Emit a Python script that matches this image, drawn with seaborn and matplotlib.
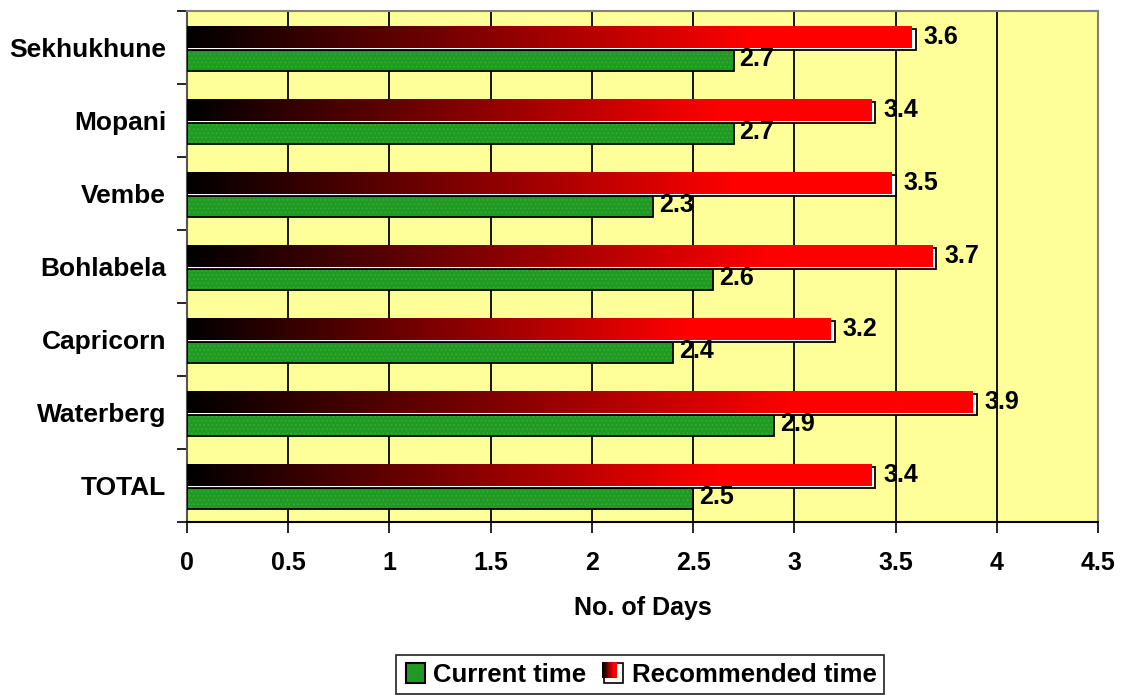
import numpy as np
import pandas as pd
import matplotlib
matplotlib.use("Agg")
import matplotlib.pyplot as plt
from matplotlib.patches import Rectangle
from matplotlib.legend_handler import HandlerBase
import seaborn as sns

# District data (number of days)
districts = ["Sekhukhune", "Mopani", "Vembe", "Bohlabela", "Capricorn", "Waterberg", "TOTAL"]
current_time = [2.7, 2.7, 2.3, 2.6, 2.4, 2.9, 2.5]
recommended_time = [3.6, 3.4, 3.5, 3.7, 3.2, 3.9, 3.4]
x_ticks = [0, 0.5, 1, 1.5, 2, 2.5, 3, 3.5, 4, 4.5]
x_tick_labels = ["0", "0.5", "1", "1.5", "2", "2.5", "3", "3.5", "4", "4.5"]

sns.set_theme(style="white")
plt.rcParams["font.family"] = ["Liberation Sans", "DejaVu Sans"]
plt.rcParams["font.weight"] = "bold"
plt.rcParams["hatch.linewidth"] = 0.6
for key in ["text.color", "axes.labelcolor", "xtick.color", "ytick.color"]:
    plt.rcParams[key] = "black"

GREEN = "#229922"
GREEN_DOT = "#35b035"
BG = "#FFFF99"

df = pd.DataFrame({
    "district": districts * 2,
    "days": recommended_time + current_time,
    "series": ["Recommended time"] * len(districts) + ["Current time"] * len(districts),
})

fig = plt.figure(figsize=(11.27, 6.97), dpi=100)
ax = fig.add_axes([0.1659, 0.2511, 0.8084, 0.7331])
ax.set_facecolor(BG)

sns.barplot(data=df, y="district", x="days", hue="series",
            hue_order=["Recommended time", "Current time"], order=districts,
            orient="h", width=0.58, dodge=True, legend=False, ax=ax,
            errorbar=None, zorder=3)


def gradient_img(n=256):
    t = np.linspace(0, 1, n)
    r = np.clip(t / 0.78, 0, 1)
    img = np.zeros((1, n, 3))
    img[0, :, 0] = r
    return img


grad = gradient_img()
px = 4.5 / (0.8084 * 1127)  # data units per pixel along x
shift = 0.03  # bars sit slightly below the band centre

n = len(districts)
patches = list(ax.patches)
rec_patches = patches[:n]
cur_patches = patches[n:n * 2]

for p in cur_patches:
    p.set_y(p.get_y() + shift)
    p.set_facecolor(GREEN)
    p.set_edgecolor(GREEN_DOT)
    p.set_hatch("....")
    p.set_linewidth(0)
    x0, y0, w, h = p.get_x(), p.get_y(), p.get_width(), p.get_height()
    ax.add_patch(Rectangle((x0, y0), w, h, facecolor="none", edgecolor="black",
                           linewidth=1.3, zorder=4))

for p in rec_patches:
    p.set_y(p.get_y() + shift)
    x0, y0, w, h = p.get_x(), p.get_y(), p.get_width(), p.get_height()
    p.set_visible(False)
    # white shadow box with outline
    ax.add_patch(Rectangle((x0, y0), w, h, facecolor="white", edgecolor="black",
                           linewidth=1.3, zorder=4))
    # shaded face, shifted slightly up and left
    dy = h * 0.06
    ax.imshow(grad, extent=[x0 - 2 * px, x0 + w - 4 * px, y0 + h - dy, y0 - dy],
              aspect="auto", interpolation="bilinear", zorder=5)

# value labels
for i, (c, r) in enumerate(zip(current_time, recommended_time)):
    rp = rec_patches[i]
    cp = cur_patches[i]
    ax.text(r + 8 * px, rp.get_y() + rp.get_height() / 2 - 0.03, f"{r:.1f}",
            va="center", ha="left", fontsize=18, fontweight="bold", zorder=6)
    ax.text(c + 6 * px, cp.get_y() + cp.get_height() / 2 - 0.02, f"{c:.1f}",
            va="center", ha="left", fontsize=18, fontweight="bold", zorder=6)

ax.set_xlim(0, 4.5)
ax.set_ylim(n - 0.5, -0.5)
ax.set_xticks(x_ticks)
ax.set_xticklabels(x_tick_labels, fontsize=18, fontweight="bold")
ax.set_yticks(range(n))
ax.set_yticklabels(districts, fontsize=19, fontweight="bold")
ax.set_yticks(np.arange(-0.5, n, 1), minor=True)
ax.tick_params(axis="y", which="major", length=0, pad=15)
ax.tick_params(axis="y", which="minor", length=7, width=1.2, color="black", direction="out", left=True)
ax.tick_params(axis="x", which="major", length=8, width=1.2, color="black", direction="out",
               bottom=True, pad=13)

ax.set_xlabel("No. of Days", fontsize=18, fontweight="bold", labelpad=15)
ax.set_ylabel("")

ax.grid(False)
for xv in x_ticks[1:-1]:
    ax.axvline(xv, color="black", linewidth=1.3, zorder=1)

for side, col in [("left", "#555555"), ("bottom", "black"), ("top", "#808080"), ("right", "#808080")]:
    ax.spines[side].set_visible(True)
    ax.spines[side].set_color(col)
    ax.spines[side].set_linewidth(1.5)


class GradientHandler(HandlerBase):
    def create_artists(self, legend, orig_handle, xdescent, ydescent, width, height, fontsize, trans):
        s = height * 1.1
        x0 = xdescent + (width - s) / 2
        y0 = -ydescent + (height - s) / 2
        arts = [Rectangle((x0, y0), s, s, facecolor="white", edgecolor="black",
                          linewidth=1.2, transform=trans)]
        steps = 12
        gw = s * 0.75 / steps
        for k in range(steps):
            t = k / (steps - 1)
            col = (min(1, t / 0.8), 0, 0)
            arts.append(Rectangle((x0 - s * 0.08 + k * gw, y0 + s * 0.25), gw * 1.05, s * 0.78,
                                  facecolor=col, edgecolor="none", transform=trans))
        return arts


class SquareHandler(HandlerBase):
    def create_artists(self, legend, orig_handle, xdescent, ydescent, width, height, fontsize, trans):
        s = height * 1.1
        x0 = xdescent + (width - s) / 2
        y0 = -ydescent + (height - s) / 2
        return [Rectangle((x0, y0), s, s, facecolor=GREEN, edgecolor="black",
                          linewidth=1.5, transform=trans)]


h_cur = Rectangle((0, 0), 1, 1)
h_rec = Rectangle((0, 0), 1, 1)
leg = fig.legend([h_cur, h_rec], ["Current time", "Recommended time"],
                 handler_map={h_cur: SquareHandler(), h_rec: GradientHandler()},
                 loc="center", bbox_to_anchor=(0.568, 0.032), ncol=2,
                 frameon=True, fancybox=False, shadow=False,
                 prop={"size": 18.5, "weight": "bold"},
                 handlelength=0.9, handletextpad=0.25, columnspacing=0.6,
                 borderpad=0.3, borderaxespad=0)
leg.get_frame().set_edgecolor("black")
leg.get_frame().set_linewidth(1.3)

fig.savefig("out.png", dpi=100, facecolor="white")
